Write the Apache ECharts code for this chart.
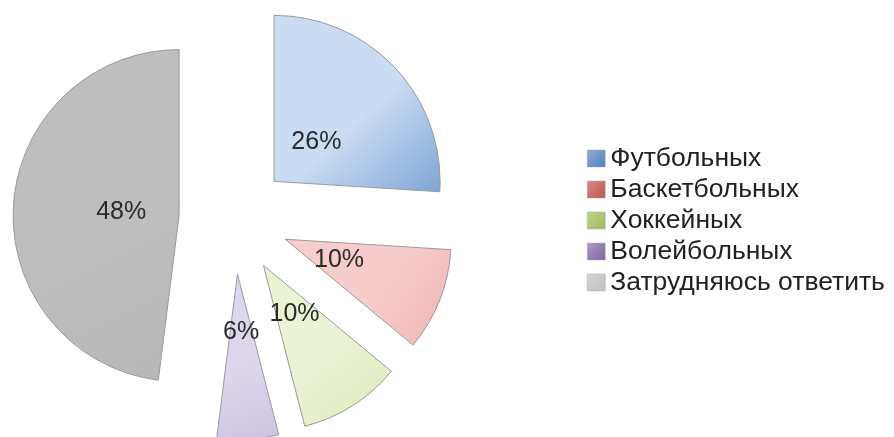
<!DOCTYPE html>
<html><head><meta charset="utf-8">
<script src="https://cdn.jsdelivr.net/npm/echarts@6/dist/echarts.min.js"></script>
<style>html,body{margin:0;padding:0;background:#fff}#c{width:894px;height:437px}</style>
</head><body><div id="c"></div>
<script>
const categories = ['Футбольных', 'Баскетбольных', 'Хоккейных', 'Волейбольных', 'Затрудняюсь ответить'];
const values = [26, 10, 10, 6, 48];

const sliceLight = ['#c9dcf3', '#f6cccc', '#eaf3d3', '#ddd6ec', '#bebebe'];
const sliceDark  = ['#7ea5d5', '#f0b3b3', '#dde9bb', '#cdc3e2', '#b8b8b8'];
const legendColors = ['#4f81bd', '#c0504d', '#9bbb59', '#8064a2', '#bfbfbf'];

const font = '"Liberation Sans", Arial, sans-serif';

function grad(i) {
  return new echarts.graphic.LinearGradient(0, 0, 1, 1, [
    { offset: 0, color: sliceLight[i] },
    { offset: 0.55, color: sliceLight[i] },
    { offset: 1, color: sliceDark[i] }
  ]);
}
function legendGrad(i) {
  return new echarts.graphic.LinearGradient(0, 0, 1, 1, [
    { offset: 0, color: echarts.color.lift(legendColors[i], 0.35) },
    { offset: 1, color: legendColors[i] }
  ]);
}

const sliceData = categories.map((n, i) => ({
  name: n, value: values[i], selected: true,
  itemStyle: { color: grad(i) }
}));
const labelData = categories.map((n, i) => ({
  name: n, value: values[i], selected: true
}));

const chart = echarts.init(document.getElementById('c'), null, { renderer: 'canvas' });
chart.setOption({
  animation: false,
  backgroundColor: '#ffffff',
  color: legendColors,
  legend: {
    orient: 'vertical',
    left: 582,
    top: 140,
    itemWidth: 18,
    itemHeight: 17,
    itemGap: 4,
    icon: 'rect',
    selectedMode: false,
    data: categories.map((n, i) => ({
      name: n,
      itemStyle: { color: legendGrad(i), borderColor: '#aaa', borderWidth: 0.5 }
    })),
    textStyle: { fontFamily: font, fontSize: 26.5, lineHeight: 26, color: '#222' }
  },
  series: [
    {
      type: 'pie',
      center: [234, 219],
      radius: [0, 166],
      startAngle: 90,
      clockwise: true,
      selectedMode: 'multiple',
      selectedOffset: 55,
      silent: true,
      label: { show: false },
      labelLine: { show: false },
      itemStyle: { borderColor: '#9a9a9a', borderWidth: 1 },
      data: sliceData
    },
    {
      type: 'pie',
      center: [234, 219],
      radius: [0, 110],
      startAngle: 90,
      clockwise: true,
      selectedMode: 'multiple',
      selectedOffset: 55,
      silent: true,
      minShowLabelAngle: 0,
      avoidLabelOverlap: false,
      labelLayout: { hideOverlap: false },
      itemStyle: { color: 'rgba(0,0,0,0)', borderWidth: 0 },
      label: {
        show: true, position: 'inside', overflow: 'none',
        formatter: p => p.value + '%',
        fontFamily: font, fontSize: 25, color: '#2a2a2a'
      },
      labelLine: { show: false },
      data: labelData
    }
  ]
});
</script>
</body></html>
